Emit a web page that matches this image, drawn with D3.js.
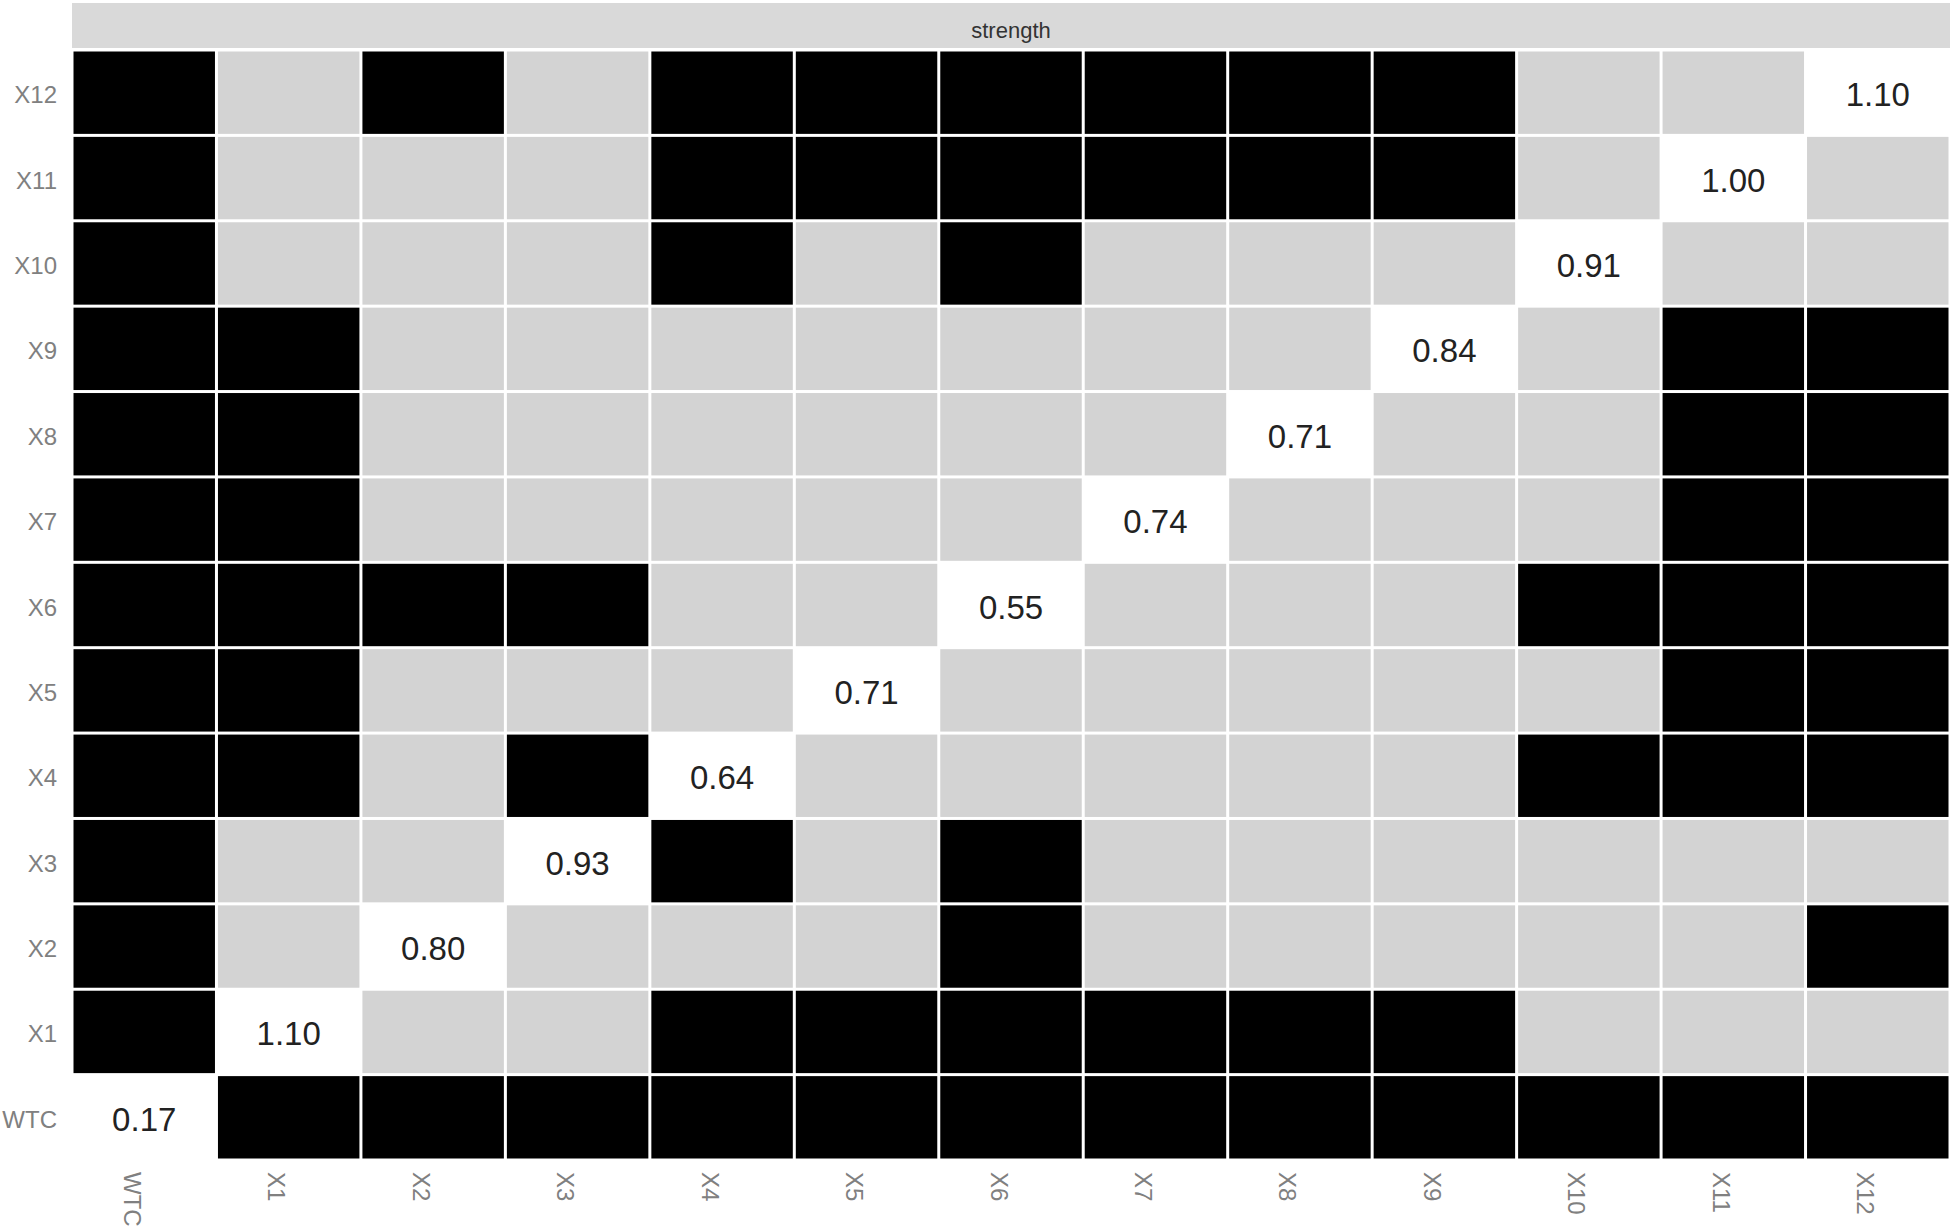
<!DOCTYPE html>
<html>
<head>
<meta charset="utf-8">
<script src="https://cdn.jsdelivr.net/npm/d3@7"></script>
<style>
  body { margin: 0; background: #fff; }
  text { font-family: "Liberation Sans", Arial, sans-serif; }
</style>
</head>
<body>
<div id="chart"></div>
<script>
// variables along both axes
const vars = ['WTC', 'X1', 'X2', 'X3', 'X4', 'X5', 'X6', 'X7', 'X8', 'X9', 'X10', 'X11', 'X12'];

// diagonal strength values
const strength = [0.17, 1.10, 0.80, 0.93, 0.64, 0.71, 0.55, 0.74, 0.71, 0.84, 0.91, 1.00, 1.10];

// off-diagonal cells: 1 = black, 0 = grey (row = y variable, column order as vars)
const links = {
    WTC: [0, 1, 1, 1, 1, 1, 1, 1, 1, 1, 1, 1, 1],
    X1:  [1, 0, 0, 0, 1, 1, 1, 1, 1, 1, 0, 0, 0],
    X2:  [1, 0, 0, 0, 0, 0, 1, 0, 0, 0, 0, 0, 1],
    X3:  [1, 0, 0, 0, 1, 0, 1, 0, 0, 0, 0, 0, 0],
    X4:  [1, 1, 0, 1, 0, 0, 0, 0, 0, 0, 1, 1, 1],
    X5:  [1, 1, 0, 0, 0, 0, 0, 0, 0, 0, 0, 1, 1],
    X6:  [1, 1, 1, 1, 0, 0, 0, 0, 0, 0, 1, 1, 1],
    X7:  [1, 1, 0, 0, 0, 0, 0, 0, 0, 0, 0, 1, 1],
    X8:  [1, 1, 0, 0, 0, 0, 0, 0, 0, 0, 0, 1, 1],
    X9:  [1, 1, 0, 0, 0, 0, 0, 0, 0, 0, 0, 1, 1],
    X10: [1, 0, 0, 0, 1, 0, 1, 0, 0, 0, 0, 0, 0],
    X11: [1, 0, 0, 0, 1, 1, 1, 1, 1, 1, 0, 0, 0],
    X12: [1, 0, 1, 0, 1, 1, 1, 1, 1, 1, 0, 0, 0]
};

const stripLabel = 'strength';

const width = 1955;
const height = 1228;
const margin = { top: 50, right: 5, bottom: 68, left: 72 };

const svg = d3.select('#chart')
    .append('svg')
    .attr('width', width)
    .attr('height', height);

const x = d3.scaleBand()
    .domain(vars)
    .range([margin.left, width - margin.right]);

const y = d3.scaleBand()
    .domain(vars)
    .range([height - margin.bottom, margin.top]);

// facet strip
svg.append('rect')
    .attr('x', margin.left)
    .attr('y', 3)
    .attr('width', width - margin.right - margin.left)
    .attr('height', 45)
    .attr('fill', '#d9d9d9');

svg.append('text')
    .attr('x', (margin.left + width - margin.right) / 2)
    .attr('y', 30)
    .attr('text-anchor', 'middle')
    .attr('dominant-baseline', 'central')
    .attr('font-size', '22px')
    .attr('fill', '#333')
    .text(stripLabel);

// cells
const cells = [];
vars.forEach((rowVar, i) => {
    vars.forEach((colVar, j) => {
        cells.push({
            row: rowVar,
            col: colVar,
            diag: i === j,
            on: links[rowVar][j] === 1,
            value: i === j ? strength[i] : null
        });
    });
});

const gap = 1.5;

svg.append('g')
    .selectAll('rect')
    .data(cells)
    .enter()
    .append('rect')
    .attr('x', d => x(d.col) + gap)
    .attr('y', d => y(d.row) + gap)
    .attr('width', x.bandwidth() - gap * 2)
    .attr('height', y.bandwidth() - gap * 2)
    .attr('fill', d => d.diag ? '#ffffff' : (d.on ? '#000000' : '#d3d3d3'));

svg.append('g')
    .selectAll('text')
    .data(cells.filter(d => d.diag))
    .enter()
    .append('text')
    .attr('x', d => x(d.col) + x.bandwidth() / 2)
    .attr('y', d => y(d.row) + y.bandwidth() / 2 + 2)
    .attr('text-anchor', 'middle')
    .attr('dominant-baseline', 'central')
    .attr('font-size', '33px')
    .attr('fill', '#222')
    .text(d => d.value.toFixed(2));

// y axis labels
svg.append('g')
    .selectAll('text')
    .data(vars)
    .enter()
    .append('text')
    .attr('x', margin.left - 15)
    .attr('y', d => y(d) + y.bandwidth() / 2 + 2)
    .attr('text-anchor', 'end')
    .attr('dominant-baseline', 'central')
    .attr('font-size', '24px')
    .attr('fill', '#808080')
    .text(d => d);

// x axis labels, rotated to read downward
svg.append('g')
    .selectAll('text')
    .data(vars)
    .enter()
    .append('text')
    .attr('transform', d => `translate(${x(d) + x.bandwidth() / 2 - 12},${height - margin.bottom + 12}) rotate(90)`)
    .attr('text-anchor', 'start')
    .attr('dominant-baseline', 'central')
    .attr('font-size', '24px')
    .attr('fill', '#808080')
    .text(d => d);
</script>
</body>
</html>
